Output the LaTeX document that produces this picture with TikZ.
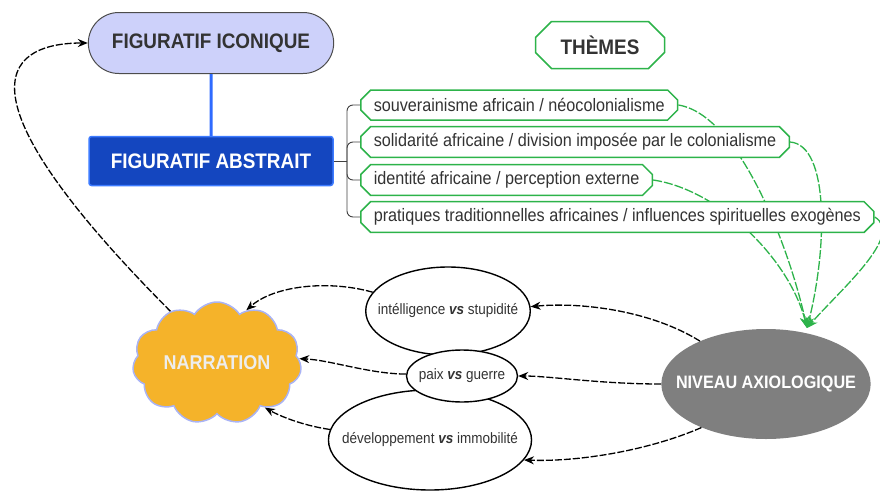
\documentclass[tikz,border=0pt]{standalone}
\usepackage{fontspec}
\setmainfont{Liberation Sans}[FakeStretch=0.9]
\usetikzlibrary{shapes.misc,shapes.symbols,shapes.geometric,arrows.meta,backgrounds}
\definecolor{grn}{HTML}{2DB34A}
\definecolor{lav}{HTML}{CDD1FA}
\definecolor{darkblue}{HTML}{1446BF}
\definecolor{lightblue}{HTML}{3D7BFF}
\definecolor{linkblue}{HTML}{2F6BFF}
\definecolor{txtgray}{HTML}{333333}
\definecolor{nivgray}{HTML}{7F7F7F}
\definecolor{orangefill}{HTML}{F5B32A}
\definecolor{cloudline}{HTML}{A9B3F5}
\begin{document}
\begin{tikzpicture}[x=1pt,y=-1pt,
  iconic/.style={rounded rectangle, draw=black!70, line width=1pt, fill=lav,
    minimum width=252pt, minimum height=61pt, text=txtgray,
    font=\bfseries\fontsize{21}{24}\selectfont},
  abstr/.style={rectangle, rounded corners=2.5pt, draw=lightblue, line width=1.5pt, fill=darkblue,
    minimum width=244pt, minimum height=49pt, text=white,
    font=\bfseries\fontsize{21}{24}\selectfont},
  themebox/.style={chamfered rectangle, chamfered rectangle xsep=8pt, chamfered rectangle ysep=8pt,
    draw=grn, line width=1.5pt, fill=white, minimum width=129pt, minimum height=47pt,
    text=txtgray, font=\bfseries\fontsize{21}{24}\selectfont},
  item/.style={chamfered rectangle, chamfered rectangle xsep=5pt, chamfered rectangle ysep=5pt,
    draw=grn, line width=1.5pt, fill=white, minimum height=30pt, inner xsep=8pt, inner ysep=2pt,
    text=txtgray, anchor=west, font=\fontsize{18}{21}\selectfont},
  bracket/.style={draw=black!75, line width=0.9pt, rounded corners=6pt},
  blueline/.style={draw=linkblue, line width=3pt},
  opp/.style={ellipse, draw=black, line width=1.4pt, fill=white, inner ysep=0pt,
    text=txtgray, font=\fontsize{15}{18}\selectfont},
  niv/.style={ellipse, fill=nivgray, minimum width=209pt, minimum height=110pt,
    inner xsep=-16pt, inner ysep=0pt,
    text=white, font=\bfseries\fontsize{18}{21}\selectfont},
  cloudy/.style={cloud, cloud puffs=11, cloud puff arc=115, cloud ignores aspect,
    draw=cloudline, line width=1.5pt, fill=orangefill, minimum width=169pt, minimum height=122pt,
    inner sep=0pt, text=white!93!black, font=\bfseries\fontsize{20}{24}\selectfont},
  blk/.style={draw=black, line width=1.3pt, dash pattern=on 7pt off 2pt,
    -{Stealth[length=10pt,width=8pt]}},
  garr/.style={draw=grn, line width=1.3pt, dash pattern=on 9pt off 2pt,
    -{Stealth[length=11pt,width=9pt]}}
]
\useasboundingbox (0,0) rectangle (880,490);

% top nodes
\node[iconic] (icon) at (211,43) {FIGURATIF ICONIQUE};
\node[abstr] (abs) at (211,161) {FIGURATIF ABSTRAIT};
\draw[blueline] (icon) -- (abs);

\node[themebox] (th) at (600,45) {THÈMES};

% theme items
\node[item] (t1) at (360,105) {souverainisme africain / néocolonialisme};
\node[item] (t2) at (360,142) {solidarité africaine / division imposée par le colonialisme};
\node[item] (t3) at (360,180) {identité africaine / perception externe};
\node[item] (t4) at (360,217) {pratiques traditionnelles africaines / influences spirituelles exogènes};

\coordinate (br) at (347,161);
\draw[bracket] (abs.east) -- (br);
\foreach \t in {t1,t2,t3,t4} {\draw[bracket] (br) |- (\t.west);}

% axiological level
\node[niv] (niv) at (766,384) {NIVEAU AXIOLOGIQUE};
\coordinate (nivtop) at (807,328);

% oppositions
\node[opp, minimum width=162pt, minimum height=88pt, inner xsep=-12pt] (intel) at (448,311) {intélligence \textbf{\textit{vs}} stupidité};
\node[opp, minimum width=200pt, minimum height=100pt, inner xsep=-16pt] (dev) at (430,440) {développement \textbf{\textit{vs}} immobilité};
\node[opp, minimum width=111pt, minimum height=52pt, inner xsep=-4pt] (paix) at (462,376) {paix \textbf{\textit{vs}} guerre};

% narration cloud
\node[cloudy] (narr) at (217,363) {NARRATION};

% green arrows (under the theme boxes)
\begin{pgfonlayer}{background}
\draw[garr] (t1.east) .. controls (740,115) and (790,250) .. (nivtop);
\draw[garr] (t2.east) .. controls (830,145) and (827,250) .. (nivtop);
\draw[garr] (t3.east) .. controls (720,190) and (790,260) .. (nivtop);
\draw[garr] (t4.east) .. controls (905,235) and (840,290) .. (nivtop);
\end{pgfonlayer}

% black arrows
\draw[blk] (narr.132) .. controls (-60,80) and (15,43) .. (icon.west);
\draw[blk] (intel.166) .. controls (330,280) and (275,285) .. (narr.61);
\draw[blk] (paix.178) .. controls (370,374) and (330,360) .. (narr.3);
\draw[blk] (dev.174) .. controls (300,425) and (278,415) .. (narr.-43);
\draw[blk] (niv.147) .. controls (650,310) and (580,302) .. (intel.3);
\draw[blk] (niv.west) .. controls (600,384) and (550,376) .. (paix.east);
\draw[blk] (niv.214) .. controls (650,450) and (580,462) .. (dev.-12);
\end{tikzpicture}
\end{document}
